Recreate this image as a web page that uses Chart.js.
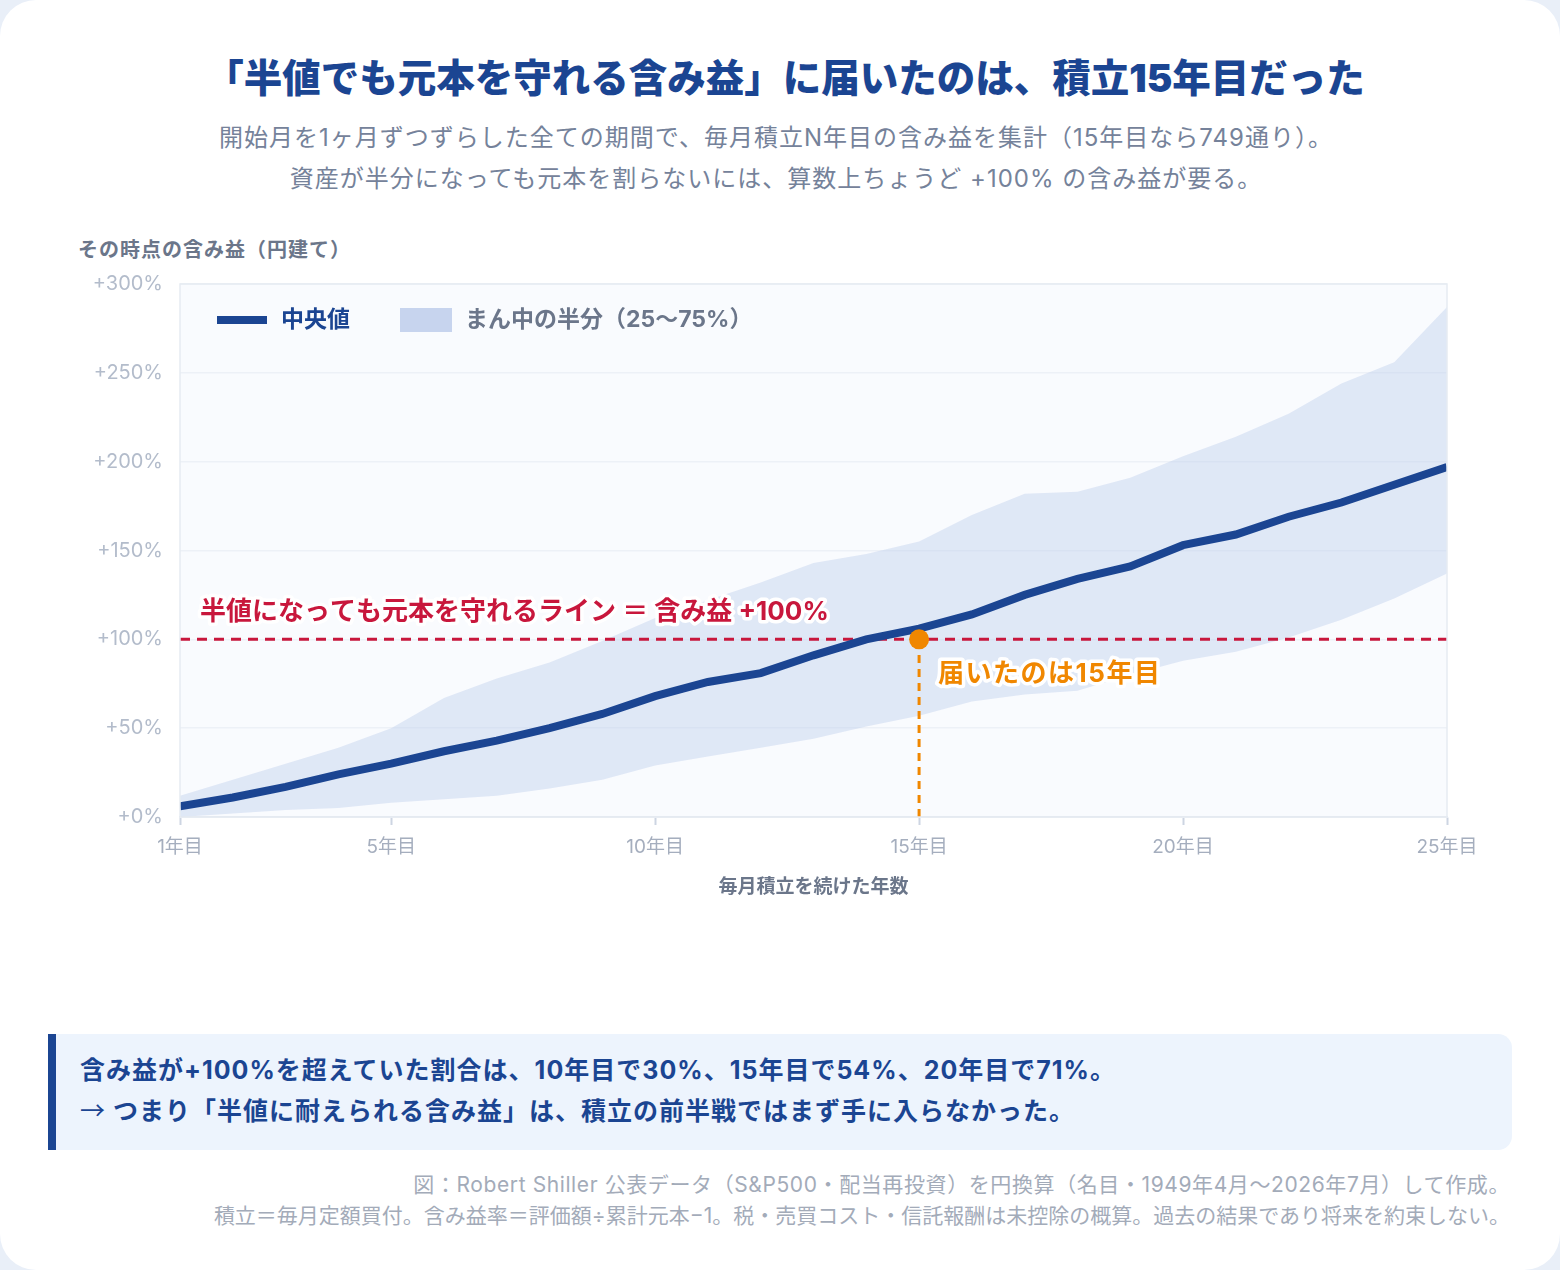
<!DOCTYPE html>
<html lang="ja">
<head>
<meta charset="UTF-8">
<title>半値でも元本を守れる含み益</title>
<script src="https://cdn.jsdelivr.net/npm/chart.js"></script>
<style>
  html, body { margin: 0; padding: 0; }
  body {
    width: 1560px; height: 1270px; background: #e9eff8;
    font-family: "Inter", "Noto Sans CJK JP", sans-serif;
    position: relative; overflow: hidden;
  }
  .card { position: absolute; left: 0; top: 0; width: 1560px; height: 1270px; background: #fff; border-radius: 36px; }
  .t { position: absolute; white-space: nowrap; }
  #title { left: 0; width: 1570px; top: 54px; text-align: center; font-size: 38.5px; font-weight: 900; color: #1b4592; line-height: 48px; }
  #sub { left: 0; width: 1552px; top: 117px; text-align: center; font-size: 24px; letter-spacing: 1px; color: #75829a; line-height: 41px; }
  #ytitle { left: 78px; top: 236px; font-size: 20px; letter-spacing: 1px; font-weight: 700; color: #6b768a; line-height: 28px; }
  #chartBox { position: absolute; left: 0; top: 255px; width: 1560px; height: 667px; }
  #note { position: absolute; left: 48px; top: 1034px; width: 1464px; height: 116px; background: #edf4fd;
          border-left: 8px solid #1b4592; border-radius: 0 14px 14px 0; box-sizing: border-box; }
  #note div { position: absolute; left: 24px; font-size: 25px; letter-spacing: 1px; font-weight: 700; color: #1b4592; line-height: 34px; white-space: nowrap; }
  .arrow { font-family: "Noto Sans CJK JP", sans-serif; font-weight: 400; }
  #foot { right: 50px; top: 1169px; text-align: right; font-size: 21px; color: #a3abb9; line-height: 31px; }
  #foot .l1 { letter-spacing: 0.6px; }
</style>
</head>
<body>
<div class="card"></div>
<div class="t" id="title">「半値でも元本を守れる含み益」に届いたのは、積立15年目だった</div>
<div class="t" id="sub">開始月を1ヶ月ずつずらした全ての期間で、毎月積立N年目の含み益を集計（15年目なら749通り）。<br>資産が半分になっても元本を割らないには、算数上ちょうど +100% の含み益が要る。</div>
<div class="t" id="ytitle">その時点の含み益（円建て）</div>
<div id="chartBox"><canvas id="chart"></canvas></div>
<div id="note">
  <div style="top:19px">含み益が+100%を超えていた割合は、10年目で30%、15年目で54%、20年目で71%。</div>
  <div style="top:58px"><span class="arrow">→</span> つまり「半値に耐えられる含み益」は、積立の前半戦ではまず手に入らなかった。</div>
</div>
<div class="t" id="foot"><span class="l1">図：Robert Shiller 公表データ（S&amp;P500・配当再投資）を円換算（名目・1949年4月〜2026年7月）して作成。</span><br>積立＝毎月定額買付。含み益率＝評価額÷累計元本−1。税・売買コスト・信託報酬は未控除の概算。過去の結果であり将来を約束しない。</div>

<script>
    // Years of monthly saving (x axis)
    const years = [1, 2, 3, 4, 5, 6, 7, 8, 9, 10, 11, 12, 13, 14, 15, 16, 17, 18, 19, 20, 21, 22, 23, 24, 25];
    // Unrealised gain in % (median and 25-75% band)
    const median = [6, 11, 17, 24, 30, 37, 43, 50, 58, 68, 76, 81, 91, 100, 106, 114, 125, 134, 141, 153, 159, 169, 177, 187, 197];
    const upper  = [12, 21, 30, 39, 50, 67, 78, 87, 99, 112, 122, 132, 143, 148, 155, 170, 182, 183, 191, 203, 214, 227, 244, 256, 287];
    const lower  = [0, 2, 4, 5, 8, 10, 12, 16, 21, 29, 34, 39, 44, 51, 57, 65, 69, 71, 80, 88, 93, 101, 111, 123, 137];
    const xTickYears = [1, 5, 10, 15, 20, 25];
    const threshold = 100;   // +100% line
    const reachYear = 15;    // year the median reached it

    const FONT = '"Inter", "Noto Sans CJK JP", sans-serif';
    const BLUE = '#1b4592';
    const RED = '#c8173c';
    const ORANGE = '#f08700';

    const toXY = (arr) => years.map((x, i) => ({ x: x, y: arr[i] }));

    // plot background + frame, drawn under the grid
    const plotBg = {
        id: 'plotBg',
        beforeDraw(chart) {
            const { ctx, chartArea: a } = chart;
            ctx.save();
            ctx.fillStyle = '#f9fbfe';
            ctx.fillRect(a.left, a.top, a.right - a.left, a.bottom - a.top);
            ctx.restore();
        },
        afterDraw(chart) {
            const { ctx, chartArea: a } = chart;
            ctx.save();
            ctx.strokeStyle = '#e6ebf2';
            ctx.lineWidth = 1.5;
            ctx.strokeRect(a.left, a.top, a.right - a.left, a.bottom - a.top);
            ctx.restore();
        }
    };

    function haloText(ctx, text, x, y, color) {
        ctx.lineJoin = 'round';
        ctx.strokeStyle = '#ffffff';
        ctx.lineWidth = 7;
        ctx.strokeText(text, x, y);
        ctx.fillStyle = color;
        ctx.fillText(text, x, y);
    }

    // legend inside the plot + annotation labels
    const labels = {
        id: 'labels',
        afterDraw(chart) {
            const { ctx, chartArea: a } = chart;
            const xs = chart.scales.x, ys = chart.scales.y;
            ctx.save();
            ctx.textBaseline = 'middle';
            ctx.textAlign = 'left';

            // legend
            const ly = a.top + 36;
            ctx.fillStyle = BLUE;
            ctx.fillRect(a.left + 37, ly - 4, 50, 8);
            ctx.font = '700 23px ' + FONT;
            ctx.fillText('中央値', a.left + 101, ly);
            ctx.fillStyle = '#c7d4ee';
            ctx.fillRect(a.left + 220, ly - 12, 52, 24);
            ctx.fillStyle = '#6b768a';
            ctx.fillText('まん中の半分（25〜75%）', a.left + 285, ly);

            // threshold label
            ctx.font = '700 26px ' + FONT;
            haloText(ctx, '半値になっても元本を守れるライン ＝ 含み益 +100%',
                xs.getPixelForValue(years[0]) + 20, ys.getPixelForValue(threshold) - 27, RED);

            // reach label
            ctx.letterSpacing = '1.5px';
            haloText(ctx, '届いたのは15年目',
                xs.getPixelForValue(reachYear) + 19, ys.getPixelForValue(threshold) + 35, ORANGE);
            ctx.restore();
        }
    };

    const ctx = document.getElementById('chart').getContext('2d');
    new Chart(ctx, {
        type: 'line',
        data: {
            datasets: [
                {
                    label: 'reach',
                    data: [{ x: reachYear, y: threshold }],
                    showLine: false,
                    pointRadius: 10,
                    pointBackgroundColor: ORANGE,
                    pointBorderWidth: 0,
                    order: 0
                },
                {
                    label: 'median',
                    data: toXY(median),
                    borderColor: BLUE,
                    borderWidth: 8,
                    pointRadius: 0,
                    fill: false,
                    order: 1
                },
                {
                    label: 'threshold',
                    data: [{ x: years[0], y: threshold }, { x: years[years.length - 1], y: threshold }],
                    borderColor: RED,
                    borderWidth: 3,
                    borderDash: [10, 7],
                    pointRadius: 0,
                    fill: false,
                    order: 2
                },
                {
                    label: 'reachLine',
                    data: [{ x: reachYear, y: 0 }, { x: reachYear, y: threshold }],
                    borderColor: ORANGE,
                    borderWidth: 3,
                    borderDash: [8, 6],
                    pointRadius: 0,
                    fill: false,
                    order: 3
                },
                {
                    label: 'upper',
                    data: toXY(upper),
                    borderWidth: 0,
                    borderColor: 'rgba(0,0,0,0)',
                    backgroundColor: 'rgba(188,204,236,0.42)',
                    pointRadius: 0,
                    fill: '+1',
                    order: 4
                },
                {
                    label: 'lower',
                    data: toXY(lower),
                    borderWidth: 0,
                    borderColor: 'rgba(0,0,0,0)',
                    pointRadius: 0,
                    fill: false,
                    order: 5
                }
            ]
        },
        options: {
            responsive: true,
            maintainAspectRatio: false,
            animation: false,
            layout: { padding: { left: 0, right: 113, top: 12, bottom: 0 } },
            plugins: {
                legend: { display: false },
                tooltip: { enabled: false }
            },
            scales: {
                x: {
                    type: 'linear',
                    min: 1,
                    max: 25,
                    afterBuildTicks: (scale) => { scale.ticks = xTickYears.map(v => ({ value: v })); },
                    afterFit: (scale) => { scale.height = 105; },
                    grid: { drawOnChartArea: false, drawTicks: true, tickLength: 8, tickWidth: 2, tickColor: '#cdd5e2' },
                    border: { color: '#e3e8f0', width: 1.5 },
                    ticks: {
                        autoSkip: false,
                        maxRotation: 0,
                        padding: 11,
                        color: '#a5aebe',
                        font: { family: FONT, size: 19 },
                        callback: (v) => v + '年目'
                    },
                    title: {
                        display: true,
                        text: '毎月積立を続けた年数',
                        color: '#6b768a',
                        font: { family: FONT, size: 19, weight: '700' },
                        padding: { top: 0, bottom: 23 }
                    }
                },
                y: {
                    min: 0,
                    max: 300,
                    afterFit: (scale) => { scale.width = 180; },
                    grid: { color: '#edf1f7', lineWidth: 1.5, drawTicks: false },
                    border: { display: false },
                    ticks: {
                        stepSize: 50,
                        padding: 17,
                        color: '#b3bccb',
                        font: { family: FONT, size: 20 },
                        callback: (v) => '+' + v + '%'
                    }
                }
            }
        },
        plugins: [plotBg, labels]
    });
</script>
</body>
</html>
